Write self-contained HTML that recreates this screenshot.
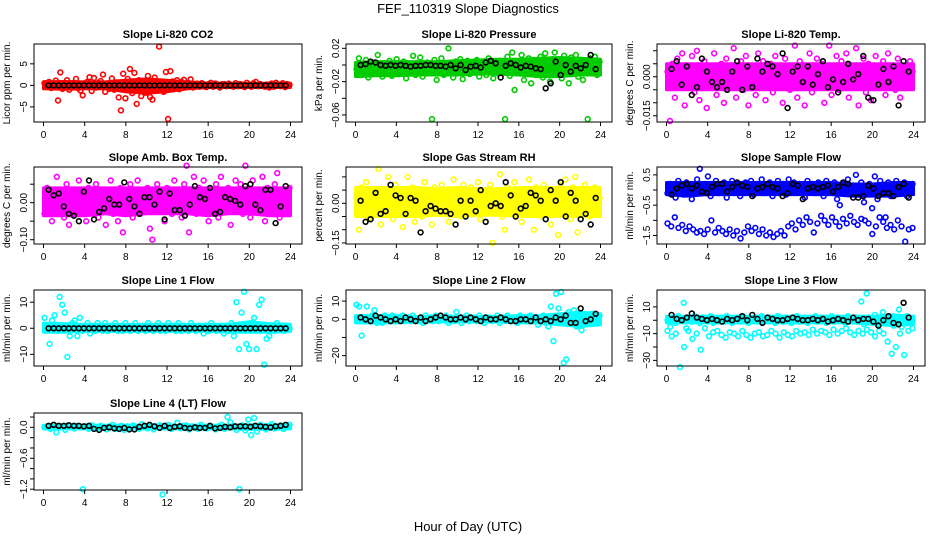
<!DOCTYPE html>
<html><head><meta charset="utf-8"><title>FEF_110319 Slope Diagnostics</title>
<style>
html,body{margin:0;padding:0;background:#fff;}
svg{display:block;font-family:"Liberation Sans",sans-serif;}
</style></head>
<body>
<svg id="chart" width="936" height="540" viewBox="0 0 936 540" xmlns="http://www.w3.org/2000/svg">
<text x="468" y="13" text-anchor="middle" font-size="13">FEF_110319  Slope Diagnostics</text>
<text x="468" y="531" text-anchor="middle" font-size="13">Hour of Day (UTC)</text>
</svg>
<script>
// ---- data ----
const xTicks = [0,4,8,12,16,20,24];
const panelTitles = ["Slope Li-820 CO2","Slope Li-820 Pressure","Slope Li-820 Temp.","Slope Amb. Box Temp.","Slope Gas Stream RH","Slope Sample Flow","Slope Line 1 Flow","Slope Line 2 Flow","Slope Line 3 Flow","Slope Line 4 (LT) Flow"];
const yTitles = ["Licor ppm per min.","kPa per min.","degrees C per min.","degrees C per min.","percent per min.","ml/min per min.","ml/min per min.","ml/min per min.","ml/min per min.","ml/min per min."];
const yRanges = [[-8.5,9.6],[-0.0685,0.0252],[-0.0174,0.0126],[-0.1116,0.0965],[-0.154,0.1375],[-1.78,0.76],[-14.5,14.7],[-25.7,16.1],[-34.2,22.6],[-1.215,0.278]];
const yTickVals = [[-5,0,5],[-0.06,-0.04,-0.02,0,0.02],[-0.015,-0.01,-0.005,0,0.005,0.01],[-0.1,-0.05,0,0.05],[-0.15,-0.1,-0.05,0,0.05,0.1],[-1.5,-1,-0.5,0,0.5],[-10,0,10],[-20,-10,0,10],[-30,-20,-10,0,10],[-1.2,-1,-0.8,-0.6,-0.4,-0.2,0,0.2]];
const yTickLabels = [["−5","0","5"],["−0.06","","−0.02","","0.02"],["−0.015","","","0.000","",""],["−0.10","","0.00",""],["−0.15","","","0.00","",""],["−1.5","","−0.5","","0.5"],["−10","0","10"],["−20","","0","10"],["−30","","−10","","10"],["−1.2","","","−0.6","","","0.0",""]];
const seriesColors = ["#ff0000","#00cc00","#ff00ff","#ff00ff","#ffff00","#0000ff","#00ffff","#00ffff","#00ffff","#00ffff"];

// dense core envelope of each cloud, every 2 hours (0..24)
const coreHours = [0,2,4,6,8,10,12,14,16,18,20,22,24];
const coreLows = [
 [-0.8,-0.9,-0.8,-0.8,-1.5,-1.8,-1.5,-0.8,-0.5,-0.5,-0.5,-0.5,-0.5],
 [-0.014,-0.013,-0.013,-0.012,-0.012,-0.012,-0.011,-0.011,-0.012,-0.014,-0.014,-0.012,-0.012],
 [-0.005,-0.005,-0.005,-0.005,-0.005,-0.005,-0.005,-0.005,-0.005,-0.005,-0.005,-0.005,-0.005],
 [-0.035,-0.035,-0.035,-0.03,-0.035,-0.03,-0.03,-0.03,-0.035,-0.03,-0.03,-0.035,-0.035],
 [-0.05,-0.05,-0.05,-0.05,-0.045,-0.05,-0.045,-0.045,-0.05,-0.05,-0.05,-0.05,-0.05],
 [-0.15,-0.2,-0.15,-0.15,-0.15,-0.15,-0.15,-0.15,-0.15,-0.2,-0.2,-0.2,-0.15],
 [-1.5,-1.5,-1.2,-1.2,-1.2,-1.2,-1.2,-1.2,-1.2,-1.5,-1.5,-1.5,-1.2],
 [-2,-2,-2,-1.5,-1.5,-1.5,-1.5,-1.5,-2,-2,-3,-4,-3],
 [-2,-2,-2,-2,-2,-2,-2,-2,-2,-2,-3,-4,-3],
 [-0.03,-0.03,-0.03,-0.03,-0.03,-0.03,-0.03,-0.03,-0.03,-0.03,-0.04,-0.04,-0.03]];
const coreHighs = [
 [0.8,0.9,0.8,0.8,1.2,1.5,1.2,0.8,0.5,0.4,0.4,0.5,0.5],
 [0.003,0.004,0.004,0.004,0.004,0.005,0.006,0.007,0.007,0.008,0.009,0.008,0.007],
 [0.005,0.005,0.005,0.005,0.005,0.005,0.005,0.005,0.005,0.005,0.005,0.005,0.005],
 [0.04,0.04,0.04,0.04,0.04,0.04,0.04,0.04,0.04,0.04,0.04,0.04,0.04],
 [0.06,0.06,0.06,0.06,0.055,0.06,0.055,0.055,0.06,0.06,0.06,0.06,0.06],
 [0.25,0.25,0.25,0.25,0.25,0.25,0.25,0.25,0.25,0.2,0.2,0.25,0.25],
 [2,1.8,1.5,1.5,1.5,1.5,1.5,1.5,1.5,1.5,2.5,1.8,1.5],
 [2,2,2,1.5,1.5,1.5,1.5,1.5,2,2,3,4,3],
 [3,3,3,3,3,3,3,3,3,3,3,4,3],
 [0.04,0.04,0.04,0.04,0.04,0.04,0.04,0.04,0.04,0.04,0.05,0.05,0.04]];

const co2Values = [0.5,-0.3,0.8,-0.6,0.2,1.1,-3.5,3,-0.8,0.4,1.2,-1,0.3,0.6,1.5,-0.7,-1.2,-2.3,0.5,0.8,1.9,-1.3,1.7,-0.5,0.6,1,2.5,-1.5,0.4,-0.8,1.6,-1,0.7,-2.8,-5.8,2.7,-3,1.5,3.8,-1.8,2.9,-4.3,1.2,-2.5,0.9,-1.7,2.2,-2.7,-3.3,1.8,-1.2,9,0.7,-1.5,3.1,-7.8,3.3,0.9,-0.6,1.2,-0.9,0.8,1.3,-0.4,0.6,1.4,-0.5,0.3,0.4,-0.3,0.5,0.2,-0.4,0.3,0.6,-0.3,0.4,0.2,-0.5,0.3,0.3,-0.2,0.4,0.1,-0.3,0.5,-0.2,0.3,0.2,-0.4,0.6,0.2,-0.3,0.5,0.8,-0.2,0.3,0.1,-0.3,0.2,-0.5,0.4,-0.3,0.6,0.2,-0.2,0.5,-0.4,0.3,0.1];
const co2Means = [0,0,0,0,0,0,0,0,0,0,0,0,0,0,0,0,0,0,0,0,0,0,0,0,0,0,0,0,0,0,0,0,0,0,0,0,0,0,0,0,0,0,0,0,0,0,0,0];
const pressValues = [-0.005,0.008,-0.012,-0.002,0.006,-0.015,-0.008,0.003,-0.01,0.012,-0.004,-0.014,0.002,-0.009,0.005,-0.013,-0.003,0.007,-0.011,-0.006,0.004,-0.016,0.001,-0.008,0.011,-0.012,-0.002,0.009,-0.014,-0.005,0.003,-0.01,-0.065,0.006,-0.018,-0.004,0.008,-0.012,0.002,0.02,-0.009,-0.015,0.004,-0.006,0.007,-0.017,-0.003,0.005,-0.011,0.001,-0.008,0.006,-0.014,-0.002,0.003,-0.012,0.008,-0.006,-0.016,0.002,-0.01,0.005,-0.004,-0.065,0.01,-0.013,0.015,-0.03,0.004,-0.01,0.012,-0.018,-0.002,0.008,-0.022,0.006,-0.012,0.003,0.01,-0.015,0.014,-0.006,-0.02,0.007,0.015,-0.011,0.004,-0.016,0.011,-0.008,-0.022,0.009,-0.004,0.012,-0.014,0.006,-0.018,0.002,-0.065,0.008,-0.006,0.01,-0.012,0.004];
const pressMeans = [0,0.001,0.004,0.003,0,-0.001,0,-0.001,0,-0.001,-0.002,-0.001,-0.001,0,0,-0.001,-0.001,-0.002,0,-0.004,0,-0.006,-0.002,-0.001,-0.003,0.003,0.005,0.002,-0.015,-0.001,0.002,0,-0.003,-0.001,-0.002,-0.004,-0.005,-0.028,-0.022,0.004,-0.012,0,-0.008,-0.001,-0.004,0,0.012,-0.005];
const tempValues = [0.002,-0.017,0.005,-0.008,0.007,-0.004,0.009,-0.011,0.003,-0.002,0.008,-0.006,0.01,-0.009,0.001,0.006,-0.012,0.004,-0.003,0.009,-0.007,0.002,0.005,-0.01,0.007,-0.004,0.003,0.011,-0.008,0.001,0.006,-0.005,0.008,-0.011,0.002,0.004,-0.007,0.009,-0.003,0.006,-0.009,0.001,0.005,-0.006,0.008,-0.002,0.003,-0.01,0.007,0.004,-0.005,0.002,0.012,-0.008,0.006,-0.003,-0.011,0.004,0.009,-0.006,0.001,0.007,-0.004,0.005,-0.01,0.003,0.012,-0.007,0.002,0.008,-0.005,0.006,-0.002,0.009,-0.008,0.004,-0.003,0.011,-0.011,0.001,0.007,-0.006,0.005,-0.009,0.003,0.008,-0.004,0.002,0.006,-0.007,0.009,-0.002,0.004,-0.005,0.007,-0.008,0.001,0.003,-0.004,0.006,0.002];
const tempMeans = [0.003,0.006,-0.003,0.004,-0.007,-0.004,0.007,0.002,-0.002,-0.004,-0.002,-0.005,0.002,0.006,-0.005,0.004,-0.004,0.007,0.002,0.005,0.004,0.001,0.009,-0.012,0.002,0.004,-0.002,0.004,-0.003,0.001,0.006,-0.004,-0.001,-0.006,-0.002,0.005,-0.001,0.001,0.008,-0.008,-0.009,-0.003,0.003,-0.002,0.004,-0.011,0.006,0.002];
const ambValues = [-0.03,0.04,-0.01,-0.05,0.02,0.07,-0.02,0.01,-0.04,0.05,-0.06,0.03,0,-0.03,0.06,-0.01,0.02,-0.05,0.04,0.01,-0.02,0.05,-0.04,0.03,0,-0.06,0.02,0.06,-0.03,0.01,-0.05,0.04,-0.08,0.03,-0.02,0.05,-0.04,0.01,0.06,-0.03,0.02,-0.01,0.04,-0.07,-0.1,0.03,0.05,-0.02,0.01,-0.05,0.04,0.02,-0.03,0.06,-0.01,0.03,-0.04,0.05,0.1,-0.08,0.02,0.07,-0.03,0.04,-0.02,0.06,0.01,-0.05,0.03,-0.01,0.05,-0.04,0.07,0.02,-0.02,0.04,-0.06,0.03,0.06,0,0.05,-0.03,0.1,0.02,-0.04,0.06,0.01,0.03,-0.02,0.07,-0.05,0.04,0.02,-0.03,0.05,0.08,-0.04,0.03,0.01,-0.02,0.04];
const ambMeans = [0.035,0.02,0.025,-0.01,-0.03,-0.035,-0.05,0.03,0.06,-0.045,-0.025,-0.015,0.01,-0.005,-0.005,0.055,0.01,-0.01,-0.03,0.015,0.015,-0.005,0.03,-0.045,0.025,-0.02,-0.02,-0.035,-0.005,0.045,0.015,0.01,0.04,-0.03,-0.025,0.015,0.01,0.005,-0.005,0.045,0.05,-0.005,-0.02,0.035,0.035,-0.055,-0.01,0.045];
const rhValues = [0.02,-0.1,0.06,-0.03,0.08,-0.06,0.01,0.04,-0.02,0.13,-0.08,0.05,-0.04,0.1,0.02,-0.06,0.07,-0.01,0.03,-0.09,0.05,0.1,-0.03,0.06,-0.07,0.02,0.04,-0.05,0.08,-0.02,0.01,-0.08,0.06,0.03,-0.04,0.07,-0.02,0.05,-0.07,0.02,0.09,-0.03,0.04,-0.05,0.07,0.01,-0.02,0.06,-0.04,0.03,0.08,-0.06,0.02,0.05,-0.03,0.07,-0.15,0.04,-0.01,0.11,-0.05,-0.1,0.06,0.02,-0.04,0.08,-0.02,0.05,-0.07,0.03,0.01,0.09,-0.03,-0.1,0.06,0.02,-0.05,0.07,-0.01,0.04,-0.08,0.05,0.02,-0.12,0.07,-0.03,0.09,0.03,-0.06,0.06,0.1,-0.11,0.04,-0.02,0.07,0.01,-0.05,0.03,0.06,-0.03,0.02];
const rhMeans = [0.01,-0.07,-0.06,0.04,-0.04,-0.03,0.07,0.03,0.02,-0.04,0.02,0.01,-0.11,-0.03,-0.01,-0.02,-0.03,-0.03,-0.04,-0.08,0.01,-0.05,0.01,-0.03,0.05,-0.07,-0.01,0,-0.01,0.08,0.03,-0.05,-0.02,-0.01,0.04,0.03,0.01,-0.06,0.05,0.01,0.08,-0.05,0.04,0.01,-0.06,-0.04,-0.08,0.02];
const flowUpper = [-0.1,0.2,0.05,-0.25,0.3,0.1,-0.15,0.25,0,-0.3,0.15,0.35,0.7,-0.05,0.2,0.45,-0.2,0.1,0.3,-0.1,0.05,0.25,-0.25,0.15,0.3,-0.05,0.2,-0.2,0.1,0.25,0,0.3,-0.15,0.2,0.05,0.35,-0.1,0.15,0.25,-0.2,0.1,0.3,0,0.2,-0.15,0.35,0.1,0.25,-0.05,0.2,0.15,-0.25,0.3,0.05,0.2,-0.1,0.25,0.1,-0.2,0.3,0.15,0,0.25,-0.3,-0.5,0.2,0.05,0.35,-0.1,0.15,0.5,-0.15,0.25,-0.4,0.1,0.2,-0.6,0.45,-0.3,0.3,0.1,-0.9,0.25,-0.2,0.15,0.3,-0.1,0.05,0.25,-0.2,0.1,0.2];
const flowLower = [-1.1,-1.2,-0.9,-1.25,-1.15,-1.35,-1.2,-1.3,-1.4,-1.35,-1.45,-1.3,-1.0,-1.4,-1.25,-1.35,-1.45,-1.3,-1.5,-1.35,-1.6,-1.4,-1.2,-1.35,-1.25,-1.45,-1.3,-1.5,-1.4,-1.55,-1.45,-1.35,-1.5,-1.2,-1.1,-1.3,-1.0,-1.15,-0.9,-1.05,-1.4,-1.1,-0.85,-1.0,-1.15,-0.9,-1.05,-1.2,-0.95,-1.1,-0.85,-1.05,-1.15,-0.95,-1.0,-1.1,-1.45,-1.2,-0.9,-1.05,-1.25,-1.15,-1.3,-1.0,-1.2,-1.7,-1.3,-1.25];
const flowMeans = [-0.15,0.05,0.15,0.2,0.05,0.15,-0.05,-0.1,0.1,0.2,0.2,-0.05,0.1,0.25,0.15,0.1,-0.2,0.05,0.1,0.2,0.1,0.05,-0.2,-0.1,0.2,0.15,-0.3,0.05,0.1,0.05,0.1,0.15,-0.05,0.1,0.25,0.2,-0.25,-0.25,-0.2,0.15,0.05,-0.2,-0.1,-0.1,-0.2,0.1,0.2,-0.25];
const line1Values = [4,0.5,-6,3,5,-1,12,9,6,-11,-3,2,3,-3,4,-1,1,2,-2,1,-1,2,1,-1,2,-1,1,0,2,-1,1,-1,2,0,-1,1,2,-1,0,1,-1,2,1,-1,0,2,-1,1,-1,2,0,1,-1,2,-1,1,0,-1,2,1,-1,1,0,-2,1,-1,2,1,-1,0,1,-2,1,-1,2,-3,10,-8,6,14,-6,-8,2,4,-8,9,11,-14,-4,-3,1,-1,2,0,1,-1,1,0];
const line1Means = [0,0,0,0,0,0,0,0,0,0,0,0,0,0,0,0,0,0,0,0,0,0,0,0,0,0,0,0,0,0,0,0,0,0,0,0,0,0,0,0,0,0,0,0,0,0,0,0];
const line2Values = [8,7,-9,1,7,-1,2,5,-2,1,-2,2,0,-1,2,-1,1,0,2,-1,1,-1,2,0,-1,1,-2,2,0,1,-1,2,-1,1,0,2,-2,1,-1,4,0,-2,1,2,-1,0,1,-1,2,0,-2,1,1,-1,0,2,-2,1,-1,2,0,-1,1,-2,2,0,1,-1,2,-1,0,-3,1,2,-2,-4,7,-12,14,6,15,-24,-22,4,-2,5,-4,3,-6,2,0,-2,3,1,-1,2];
const line2Means = [1,0,-1,2,1,0,-1,0,-1,1,0,-1,1,-1,0,1,2,1,0,0,1,0,1,0,-1,1,0,0,1,0,-1,-1,0,0,-1,1,-1,0,-1,1,0,2,-2,-2,6,-1,0,3];
const line3Upper = [0,-5,2,-2,3,1,13,-6,2,-1,3,0,-2,2,1,-1,3,-2,1,0,2,-1,3,1,-2,0,2,-1,3,1,-2,1,0,2,-1,3,-1,0,2,1,-2,3,0,-1,2,1,-2,0,3,-1,1,2,-2,0,1,3,-1,2,0,-2,1,3,-1,2,0,1,-2,3,1,-1,2,0,14,-3,20,2,-1,4,-3,1,6,-2,3,0,-4,2,8,-5,1,3,-2,0];
const line3Lower = [-8,-12,-10,-35,-20,-8,-14,-10,-22,-6,-12,-9,-8,-11,-13,-9,-10,-12,-8,-11,-13,-10,-9,-12,-11,-8,-10,-13,-9,-11,-12,-8,-10,-9,-11,-7,-10,-8,-9,-11,-7,-10,-8,-6,-9,-11,-8,-10,-7,-9,-12,-8,-10,-16,-25,-20,-10,-26,-8,-6];
const line3Means = [4,1,0,2,5,2,1,0,1,0,-1,1,0,1,3,0,4,1,-2,2,1,0,0,1,2,1,0,0,1,0,1,-1,0,1,0,-1,2,0,1,1,-1,-4,0,3,-2,-3,13,2];
const line4Values = [0,0.02,-0.03,0.01,-0.1,0.03,0.02,-0.05,0.04,0.01,-0.02,0.03,0,-1.2,0.02,-0.03,0.04,0.01,-0.02,0.03,0,-0.04,0.02,0.05,-0.03,0.01,0.03,-0.05,0.02,-0.02,0.04,0.01,-0.03,0.06,0.02,-0.02,0.03,-0.04,0.01,0.04,-1.3,0.02,0.05,-0.03,0.01,0.09,-0.02,0.03,0.04,-0.04,0.02,0.01,-0.03,0.05,0,-0.02,0.03,0.01,-0.04,0.02,0.05,-0.03,0.2,0.1,0.03,-0.05,-1.2,0.04,-0.06,0.15,-0.15,0.18,-0.08,0.05,0.02,-0.04,0.03,0.06,-0.02,0.01,0.04,-0.03,0.02,0.05];
const line4Means = [0.03,0.05,0.03,0.03,0.04,0.03,0.03,0.02,0.03,-0.03,-0.05,-0.01,0,-0.02,-0.03,-0.01,-0.04,-0.04,0.01,0.03,0.05,0.02,-0.01,0.03,-0.01,0.01,0.02,-0.01,-0.02,0,-0.01,-0.01,0.03,-0.02,-0.01,0.01,0,0.02,0.02,0.02,0.01,0.03,0.02,0.01,0,0.02,0.03,0.05];

const panelSeries = [[co2Values],[pressValues],[tempValues],[ambValues],[rhValues],[flowUpper,flowLower],[line1Values],[line2Values],[line3Upper,line3Lower],[line4Values]];
const panelMeans = [co2Means,pressMeans,tempMeans,ambMeans,rhMeans,flowMeans,line1Means,line2Means,line3Means,line4Means];

// ---- layout ----
const colBox = [[34,302],[346,612],[657,925]];
const rowBox = [[44,122],[167,244],[290,366],[413,490]];
const NS = "http://www.w3.org/2000/svg";
const svg = document.getElementById('chart');
function mk(tag, attrs, parent){const e=document.createElementNS(NS,tag);for(const k in attrs)e.setAttribute(k,attrs[k]);(parent||svg).appendChild(e);return e;}

panelTitles.forEach((title,p)=>{
  const col=p%3,row=Math.floor(p/3);
  const L=colBox[col][0],R=colBox[col][1],T=rowBox[row][0],B=rowBox[row][1];
  const x0=L+9.5,x24=R-11.5;
  const xs=h=>x0+(h/24)*(x24-x0);
  const [ymin,ymax]=yRanges[p];
  const ys=v=>B-(v-ymin)/(ymax-ymin)*(B-T);
  const g=mk('g',{});
  
  
  const t=mk('text',{x:(L+R)/2,y:T-6,'text-anchor':'middle','font-size':11,'font-weight':'bold'},g);
  t.textContent=title;
  
  
  const yt=mk('text',{x:0,y:0,'text-anchor':'middle','font-size':10,transform:`translate(${L-24},${(T+B)/2}) rotate(-90)`},g);
  yt.textContent=yTitles[p];
  
  
  // dense core band
  const up=coreHours.map((h,i)=>`${xs(h).toFixed(1)},${ys(coreHighs[p][i]).toFixed(1)}`);
  const dn=coreHours.map((h,i)=>`${xs(h).toFixed(1)},${ys(coreLows[p][i]).toFixed(1)}`).reverse();
  const band=mk('polygon',{points:up.concat(dn).join(' '),fill:seriesColors[p],stroke:seriesColors[p],'stroke-width':3,'stroke-linejoin':'round'},g);
  
  
  // points
  const pts=mk('g',{fill:'none','stroke-width':1.6},g);
  
  
  panelSeries[p].forEach(arr=>{
    const n=arr.length;
    arr.forEach((v,i)=>{
      const c=mk('circle',{cx:xs(0.1+i*23.8/(n-1)).toFixed(1),cy:ys(v).toFixed(1),r:2.4,stroke:seriesColors[p]},pts);
      
      
    });
  });
  panelMeans[p].forEach((v,i)=>{
    const c=mk('circle',{cx:xs(0.5+i*0.49).toFixed(1),cy:ys(v).toFixed(1),r:2.4,stroke:'#000'},pts);
    
    
  });
  // box
  const bx=mk('rect',{x:L,y:T,width:R-L,height:B-T,fill:'none',stroke:'#000','stroke-width':1},g);
  
  
  // x ticks
  xTicks.forEach(h=>{
    mk('line',{x1:xs(h),x2:xs(h),y1:B,y2:B+4,stroke:'#000'},g);
    const lb=mk('text',{x:xs(h),y:B+16,'text-anchor':'middle','font-size':10},g);
    lb.textContent=h;
    
    
  });
  yTickVals[p].forEach((v,i)=>{
    const y=ys(v);
    mk('line',{x1:L-4,x2:L,y1:y,y2:y,stroke:'#000'},g);
    const s=yTickLabels[p][i];
    if(s){
      const lb=mk('text',{x:0,y:0,'text-anchor':'middle','font-size':10,transform:`translate(${L-7},${y}) rotate(-90)`},g);
      lb.textContent=s;
      
      
    }
  });
});
</script>
</body></html>
